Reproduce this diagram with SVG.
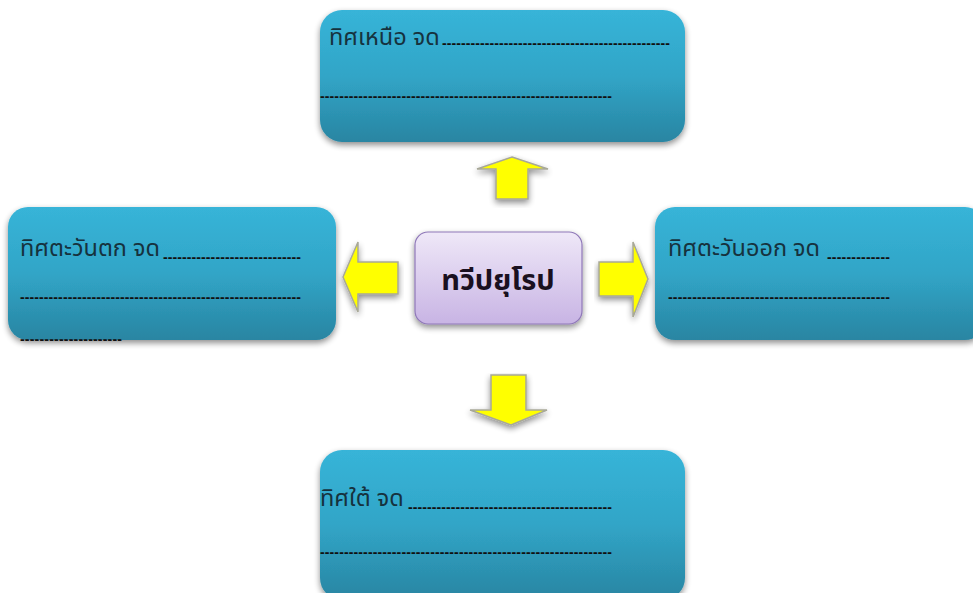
<svg xmlns="http://www.w3.org/2000/svg" width="973" height="593" viewBox="0 0 973 593">
<defs>
<linearGradient id="blue" x1="0" y1="0" x2="0" y2="1">
<stop offset="0" stop-color="#37b4d8"/>
<stop offset="0.5" stop-color="#31a5c7"/>
<stop offset="1" stop-color="#2985a2"/>
</linearGradient>
<linearGradient id="purple" x1="0" y1="0" x2="0" y2="1">
<stop offset="0" stop-color="#efe8f8"/>
<stop offset="1" stop-color="#c8b4e4"/>
</linearGradient>
<filter id="sh" x="-10%" y="-10%" width="120%" height="130%">
<feGaussianBlur in="SourceAlpha" stdDeviation="3"/>
<feOffset dx="0" dy="3" result="b"/>
<feComponentTransfer><feFuncA type="linear" slope="0.45"/></feComponentTransfer>
<feMerge><feMergeNode/><feMergeNode in="SourceGraphic"/></feMerge>
</filter>
</defs>
<style>
.box{fill:url(#blue);filter:url(#sh)}
.t{font-family:'Noto Sans Thai','Noto Sans','DejaVu Sans',sans-serif;font-size:23.5px;fill:#16323e}
.d{font-family:'Liberation Sans',sans-serif;font-size:14px;font-weight:bold;fill:#111}
.arr{fill:#ffff00;stroke:#a8a898;stroke-width:1.5;filter:url(#sh)}
.c{font-family:'Noto Sans Thai','Noto Sans','DejaVu Sans',sans-serif;font-size:29px;font-weight:bold;fill:#1a1020}
</style>
<rect width="973" height="593" fill="#ffffff"/>
<g id="north">
<rect class="box" x="320" y="10" width="365" height="132" rx="22"/>
<text class="t" x="329" y="45">ทิศเหนือ จด</text>
<text class="d" x="442" y="48" textLength="228" lengthAdjust="spacing">------------------------------------------------</text>
<text class="d" x="320" y="101" textLength="292" lengthAdjust="spacing">-------------------------------------------------------------</text>
</g>
<g id="west">
<rect class="box" x="8" y="207" width="328" height="133" rx="20"/>
<text class="t" x="20" y="256">ทิศตะวันตก จด</text>
<text class="d" x="163" y="262" textLength="138" lengthAdjust="spacing">-----------------------------</text>
<text class="d" x="20" y="302" textLength="281" lengthAdjust="spacing">-----------------------------------------------------------</text>
<text class="d" x="20" y="344" textLength="102" lengthAdjust="spacing">---------------------</text>
</g>
<g id="east">
<rect class="box" x="655" y="207" width="330" height="133" rx="20"/>
<text class="t" x="668" y="256">ทิศตะวันออก จด</text>
<text class="d" x="827" y="262" textLength="63" lengthAdjust="spacing">-------------</text>
<text class="d" x="668" y="302" textLength="222" lengthAdjust="spacing">----------------------------------------------</text>
</g>
<g id="south">
<rect class="box" x="320" y="450" width="365" height="150" rx="22"/>
<text class="t" x="320" y="506">ทิศใต้ จด</text>
<text class="d" x="408" y="512" textLength="204" lengthAdjust="spacing">-------------------------------------------</text>
<text class="d" x="320" y="557" textLength="292" lengthAdjust="spacing">-------------------------------------------------------------</text>
</g>
<g id="center">
<rect x="415" y="232" width="167" height="92" rx="13" fill="url(#purple)" stroke="#8f78b8" stroke-width="1.2" filter="url(#sh)"/>
<text class="c" x="498" y="290" text-anchor="middle">ทวีปยุโรป</text>
</g>
<g id="connectors">
<polygon class="arr" points="512,157 548,169 528,169 528,199 496,199 496,169 477,169"/>
<polygon class="arr" points="343,277 358,242 358,262 398,262 398,294 358,294 358,312"/>
<polygon class="arr" points="648,279 633,242 633,262 599,262 599,296 633,296 633,317"/>
<polygon class="arr" points="511,425 547,410 526,410 526,375 491,375 491,410 470,410"/>
</g>
</svg>
